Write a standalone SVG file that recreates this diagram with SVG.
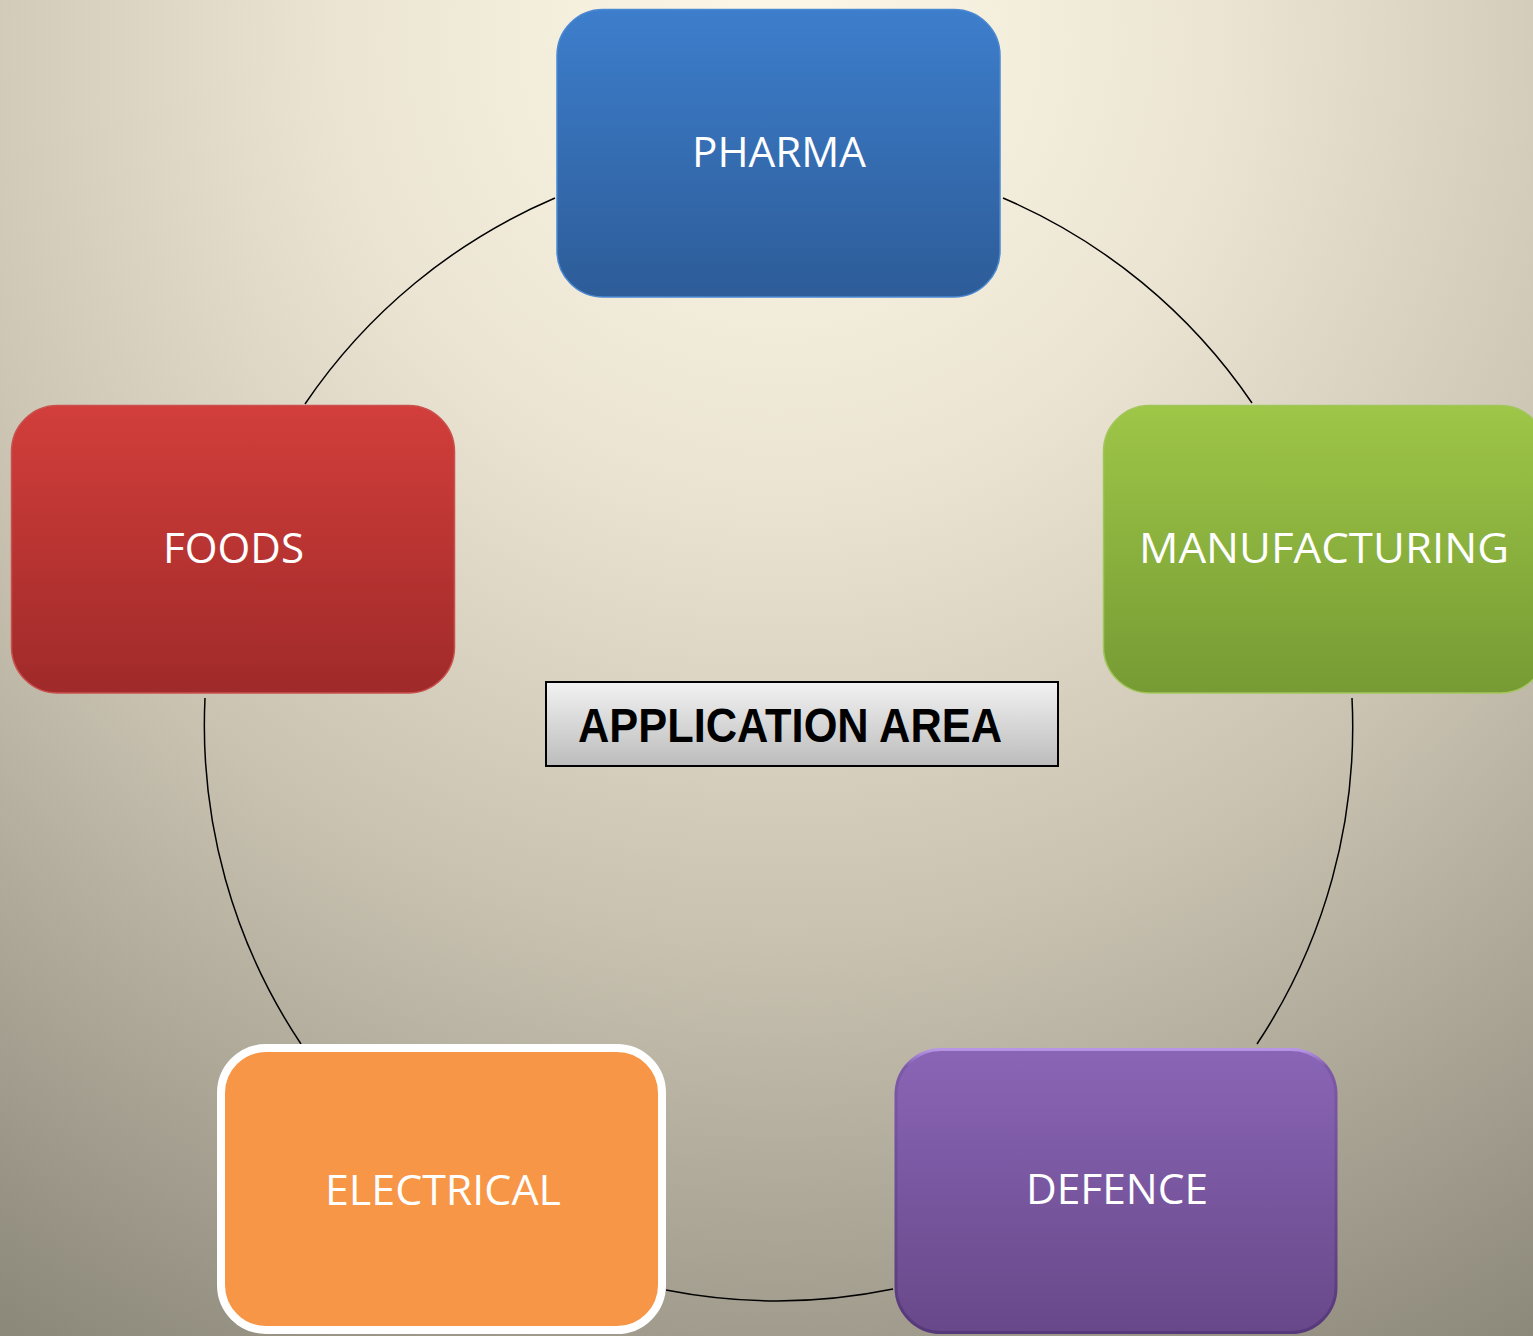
<svg xmlns="http://www.w3.org/2000/svg" width="1533" height="1336" viewBox="0 0 1533 1336">
  <defs>
    <radialGradient id="bg" gradientUnits="userSpaceOnUse" cx="780" cy="40" r="1500">
      <stop offset="0" stop-color="#fdf8e8"/>
      <stop offset="0.3" stop-color="#ebe4d2"/>
      <stop offset="0.6" stop-color="#c9c2b1"/>
      <stop offset="1" stop-color="#8c887a"/>
    </radialGradient>
    <linearGradient id="gBlue" x1="0" y1="0" x2="0" y2="1">
      <stop offset="0" stop-color="#3d7ecc"/>
      <stop offset="1" stop-color="#2d5c98"/>
    </linearGradient>
    <linearGradient id="gRed" x1="0" y1="0" x2="0" y2="1">
      <stop offset="0" stop-color="#d23e3b"/>
      <stop offset="1" stop-color="#9f2a29"/>
    </linearGradient>
    <linearGradient id="gGreen" x1="0" y1="0" x2="0" y2="1">
      <stop offset="0" stop-color="#9ec647"/>
      <stop offset="1" stop-color="#769b34"/>
    </linearGradient>
    <linearGradient id="gPurple" x1="0" y1="0" x2="0" y2="1">
      <stop offset="0" stop-color="#8a65b6"/>
      <stop offset="1" stop-color="#684889"/>
    </linearGradient>
    <linearGradient id="gPurpleEdge" x1="0" y1="0" x2="0" y2="1">
      <stop offset="0" stop-color="#b796e6"/>
      <stop offset="0.06" stop-color="#7d5aa8"/>
      <stop offset="1" stop-color="#56397a"/>
    </linearGradient>
    <linearGradient id="gGray" x1="0" y1="0" x2="0" y2="1">
      <stop offset="0" stop-color="#f2f2f2"/>
      <stop offset="1" stop-color="#bcbcbc"/>
    </linearGradient>
  </defs>
  <style>
    .lbl { font-family: "Open Sans", "Liberation Sans", sans-serif; font-size: 42px; fill: #ffffff; text-anchor: middle; }
    .conn { fill: none; stroke: #000000; stroke-width: 1.5; }
    .title { font-family: "Liberation Sans", "Open Sans", sans-serif; font-weight: bold; font-size: 48px; fill: #000000; }
  </style>

  <rect x="0" y="0" width="1533" height="1336" fill="url(#bg)"/>

  <g id="connectors">
    <path class="conn" d="M 1003 198 A 574 574 0 0 1 1252 403"/>
    <path class="conn" d="M 1352 698 A 574 574 0 0 1 1257 1044"/>
    <path class="conn" d="M 893 1289 A 574 574 0 0 1 666 1290"/>
    <path class="conn" d="M 301 1044 A 574 574 0 0 1 205 698"/>
    <path class="conn" d="M 305 404 A 574 574 0 0 1 555 198"/>
  </g>

  <g id="node-pharma">
    <rect x="557" y="9.5" width="443" height="287.5" rx="46" ry="46" fill="url(#gBlue)" stroke="#4b88d2" stroke-width="1.5"/>
    <text class="lbl" x="779" y="167" textLength="174" lengthAdjust="spacingAndGlyphs">PHARMA</text>
  </g>

  <g id="node-foods">
    <rect x="11.5" y="405.5" width="443" height="287.5" rx="46" ry="46" fill="url(#gRed)" stroke="#c9504d" stroke-width="1.5"/>
    <text class="lbl" x="233.5" y="563" textLength="141" lengthAdjust="spacingAndGlyphs">FOODS</text>
  </g>

  <g id="node-manufacturing">
    <rect x="1103.5" y="405.5" width="443" height="287.5" rx="46" ry="46" fill="url(#gGreen)" stroke="#a3c65c" stroke-width="1.5"/>
    <text class="lbl" x="1324" y="563" textLength="370" lengthAdjust="spacingAndGlyphs">MANUFACTURING</text>
  </g>

  <g id="node-electrical">
    <rect x="221" y="1048" width="441" height="282" rx="45" ry="45" fill="#f79646" stroke="#ffffff" stroke-width="8"/>
    <text class="lbl" x="443" y="1205" textLength="236" lengthAdjust="spacingAndGlyphs">ELECTRICAL</text>
  </g>

  <g id="node-defence">
    <rect x="896" y="1049.5" width="440" height="283" rx="45" ry="45" fill="url(#gPurple)" stroke="url(#gPurpleEdge)" stroke-width="3"/>
    <text class="lbl" x="1117" y="1204" textLength="182" lengthAdjust="spacingAndGlyphs">DEFENCE</text>
  </g>

  <g id="node-application-area">
    <rect x="546" y="682" width="512" height="84" fill="url(#gGray)" stroke="#000000" stroke-width="2"/>
    <text class="title" x="578" y="742" textLength="424" lengthAdjust="spacingAndGlyphs">APPLICATION AREA</text>
  </g>
</svg>
